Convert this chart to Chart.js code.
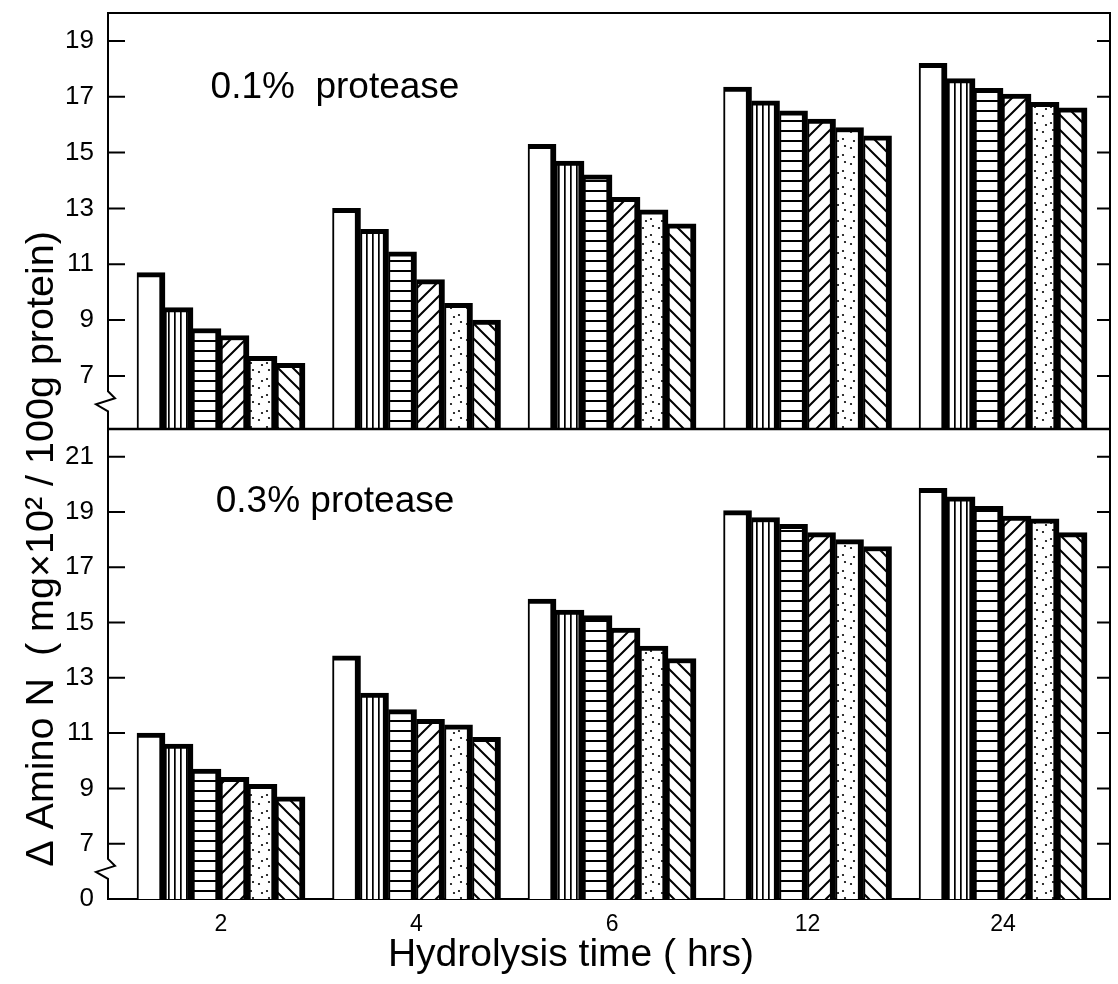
<!DOCTYPE html>
<html>
<head>
<meta charset="utf-8">
<script src="https://cdn.jsdelivr.net/npm/chart.js@4.4.0/dist/chart.umd.min.js"></script>
<style>
  html, body { margin: 0; padding: 0; background: #fff; }
  #wrap { width: 1118px; height: 984px; }
</style>
</head>
<body>
<div id="wrap"><canvas id="hidrolisis" width="1118" height="984"></canvas></div>
<script>
// hydrolysis time groups (x axis)
var hours = ['2', '4', '6', '12', '24'];

// 0.1% protease panel, six bars per time
var low1 = [10.7, 13.0, 15.3, 17.35, 18.2];
var low2 = [9.45, 12.25, 14.7, 16.85, 17.65];
var low3 = [8.7, 11.45, 14.2, 16.5, 17.3];
var low4 = [8.45, 10.45, 13.4, 16.2, 17.1];
var low5 = [7.7, 9.6, 12.95, 15.9, 16.8];
var low6 = [7.45, 9.0, 12.45, 15.6, 16.6];

// 0.3% protease panel
var high1 = [11.0, 13.8, 15.85, 19.05, 19.85];
var high2 = [10.6, 12.45, 15.45, 18.8, 19.55];
var high3 = [9.7, 11.85, 15.25, 18.55, 19.2];
var high4 = [9.4, 11.5, 14.8, 18.25, 18.85];
var high5 = [9.15, 11.3, 14.15, 18.0, 18.75];
var high6 = [8.7, 10.85, 13.7, 17.75, 18.25];

// tick labels
var topTicks = [7, 9, 11, 13, 15, 17, 19];
var bottomTicks = [5, 7, 9, 11, 13, 15, 17, 19, 21];
var bottomTickText = ['0', '7', '9', '11', '13', '15', '17', '19', '21'];

var FONT = "'Liberation Sans', Arial, sans-serif";
var X_MIN = -0.578, X_MAX = 4.547;

function makePattern(kind) {
    var s = 15;
    if (kind === 'vert') s = 6;
    if (kind === 'horiz') s = 10;
    if (kind === 'dots') s = 16;
    var c = document.createElement('canvas');
    c.width = s;
    c.height = s;
    var g = c.getContext('2d');
    g.fillStyle = '#fff';
    g.fillRect(0, 0, s, s);
    g.fillStyle = '#000';
    g.strokeStyle = '#000';
    g.lineWidth = 2;
    if (kind === 'vert') {
        g.fillRect(0, 0, 1.7, s);
    } else if (kind === 'horiz') {
        g.fillRect(0, 0, s, 2);
    } else if (kind === 'dots') {
        [[3, 4], [11, 11], [13, 2], [6, 13]].forEach(function (p) {
            g.beginPath();
            g.arc(p[0], p[1], 1.1, 0, Math.PI * 2);
            g.fill();
        });
    } else {
        g.beginPath();
        for (var k = -1; k <= 1; k++) {
            if (kind === 'up') {
                g.moveTo(k * s - 1, s + 1);
                g.lineTo(k * s + s + 1, -1);
            } else {
                g.moveTo(k * s - 1, -1);
                g.lineTo(k * s + s + 1, s + 1);
            }
        }
        g.stroke();
    }
    return g.createPattern(c, 'repeat');
}

var fills = ['#ffffff', makePattern('vert'), makePattern('horiz'),
             makePattern('up'), makePattern('dots'), makePattern('down')];

function serie(values, axis, base, k) {
    return {
        data: values.map(function (v, i) { return { x: i, y: v }; }),
        yAxisID: axis,
        stack: 's' + k,
        base: base,
        backgroundColor: fills[k],
        borderColor: '#000',
        borderWidth: { left: 2, top: 5, right: 6, bottom: 0 },
        barThickness: 28,
        categoryPercentage: 0.86,
        barPercentage: 1
    };
}

var datasets = [];
[low1, low2, low3, low4, low5, low6].forEach(function (s, k) {
    datasets.push(serie(s, 'yTop', 5.1, k));
});
[high1, high2, high3, high4, high5, high6].forEach(function (s, k) {
    datasets.push(serie(s, 'yBot', 5, k));
});

var marcos = {
    id: 'marcos',
    afterDraw: function (chart) {
        var ctx = chart.ctx;
        var a = chart.chartArea;
        var yt = chart.scales.yTop;
        var yb = chart.scales.yBot;
        ctx.save();
        ctx.strokeStyle = '#000';
        ctx.lineWidth = 2;
        ctx.beginPath();
        ctx.moveTo(a.left, a.top);
        ctx.lineTo(a.right, a.top);
        ctx.lineTo(a.right, a.bottom);
        ctx.stroke();
        ctx.lineWidth = 2.5;
        ctx.beginPath();
        ctx.moveTo(a.left, yt.bottom);
        ctx.lineTo(a.right, yt.bottom);
        ctx.stroke();

        // ticks point inward on both sides
        ctx.lineWidth = 2;
        [[yt, topTicks], [yb, bottomTicks]].forEach(function (p) {
            p[1].forEach(function (v) {
                if (v === 5) return;
                var y = p[0].getPixelForValue(v);
                ctx.beginPath();
                ctx.moveTo(a.left, y);
                ctx.lineTo(a.left + 17, y);
                ctx.moveTo(a.right - 13, y);
                ctx.lineTo(a.right, y);
                ctx.stroke();
            });
        });

        // axis breaks
        [yt, yb].forEach(function (sc) {
            var y0 = sc.getPixelForValue(6.45);
            var x = a.left;
            ctx.fillStyle = '#fff';
            ctx.fillRect(x - 3, y0, 6, 21);
            ctx.beginPath();
            ctx.moveTo(x, y0 - 1);
            ctx.lineTo(x, y0);
            ctx.lineTo(x + 7, y0 + 7);
            ctx.lineTo(x - 12, y0 + 13);
            ctx.lineTo(x, y0 + 20);
            ctx.lineTo(x, y0 + 22);
            ctx.stroke();
        });

        ctx.fillStyle = '#000';
        ctx.textAlign = 'center';
        ctx.textBaseline = 'middle';
        ctx.font = '37px ' + FONT;
        ctx.fillText('0.1%  protease', a.left + 227, yt.top + 75);
        ctx.fillText('0.3% protease', a.left + 227, yb.top + 73);

        ctx.font = '39px ' + FONT;
        ctx.fillText('Hydrolysis time ( hrs)', a.left + 463, a.bottom + 56);

        ctx.translate(42, 549);
        ctx.rotate(-Math.PI / 2);
        ctx.font = '39.5px ' + FONT;
        ctx.fillText('\u0394 Amino N  ( mg\u00d710\u00b2 / 100g protein)', 0, 0);
        ctx.restore();
    }
};

function noOverflow(scale) {
    scale.paddingTop = 0;
    scale.paddingBottom = 0;
    scale.paddingLeft = 0;
    scale.paddingRight = 0;
}

var ctx = document.getElementById('hidrolisis').getContext('2d');
var grafico = new Chart(ctx, {
    type: 'bar',
    data: { datasets: datasets },
    options: {
        responsive: false,
        animation: false,
        layout: { padding: { top: 13, right: 8, left: 0, bottom: 0 } },
        plugins: {
            legend: { display: false },
            tooltip: { enabled: false }
        },
        scales: {
            x: {
                type: 'linear',
                min: X_MIN,
                max: X_MAX,
                offset: false,
                bounds: 'data',
                beginAtZero: false,
                grid: { display: false, drawTicks: false },
                border: { display: true, color: '#000', width: 2 },
                afterBuildTicks: function (scale) {
                    scale.ticks = hours.map(function (h, i) { return { value: i }; });
                    scale.min = X_MIN;
                    scale.max = X_MAX;
                },
                afterFit: function (scale) {
                    scale.height = 85;
                    noOverflow(scale);
                },
                ticks: {
                    padding: 12,
                    autoSkip: false,
                    maxRotation: 0,
                    color: '#000',
                    font: { family: FONT, size: 23 },
                    callback: function (v) { return hours[v]; }
                }
            },
            yBot: {
                type: 'linear',
                position: 'left',
                stack: 'panel',
                stackWeight: 470,
                min: 5,
                max: 22,
                beginAtZero: false,
                grid: { display: false, drawTicks: false },
                border: { display: true, color: '#000', width: 2 },
                afterBuildTicks: function (scale) {
                    scale.ticks = bottomTicks.map(function (v) { return { value: v }; });
                },
                afterFit: function (scale) {
                    scale.width = 108;
                    noOverflow(scale);
                },
                ticks: {
                    padding: 14,
                    autoSkip: false,
                    color: '#000',
                    font: { family: FONT, size: 26 },
                    callback: function (v) { return bottomTickText[bottomTicks.indexOf(v)]; }
                }
            },
            yTop: {
                type: 'linear',
                position: 'left',
                stack: 'panel',
                stackWeight: 416,
                min: 5.1,
                max: 20,
                beginAtZero: false,
                grid: { display: false, drawTicks: false },
                border: { display: true, color: '#000', width: 2 },
                afterBuildTicks: function (scale) {
                    scale.ticks = topTicks.map(function (v) { return { value: v }; });
                },
                afterFit: function (scale) {
                    scale.width = 108;
                    noOverflow(scale);
                },
                ticks: {
                    padding: 14,
                    autoSkip: false,
                    color: '#000',
                    font: { family: FONT, size: 26 }
                }
            }
        }
    },
    plugins: [marcos]
});
</script>
</body>
</html>
